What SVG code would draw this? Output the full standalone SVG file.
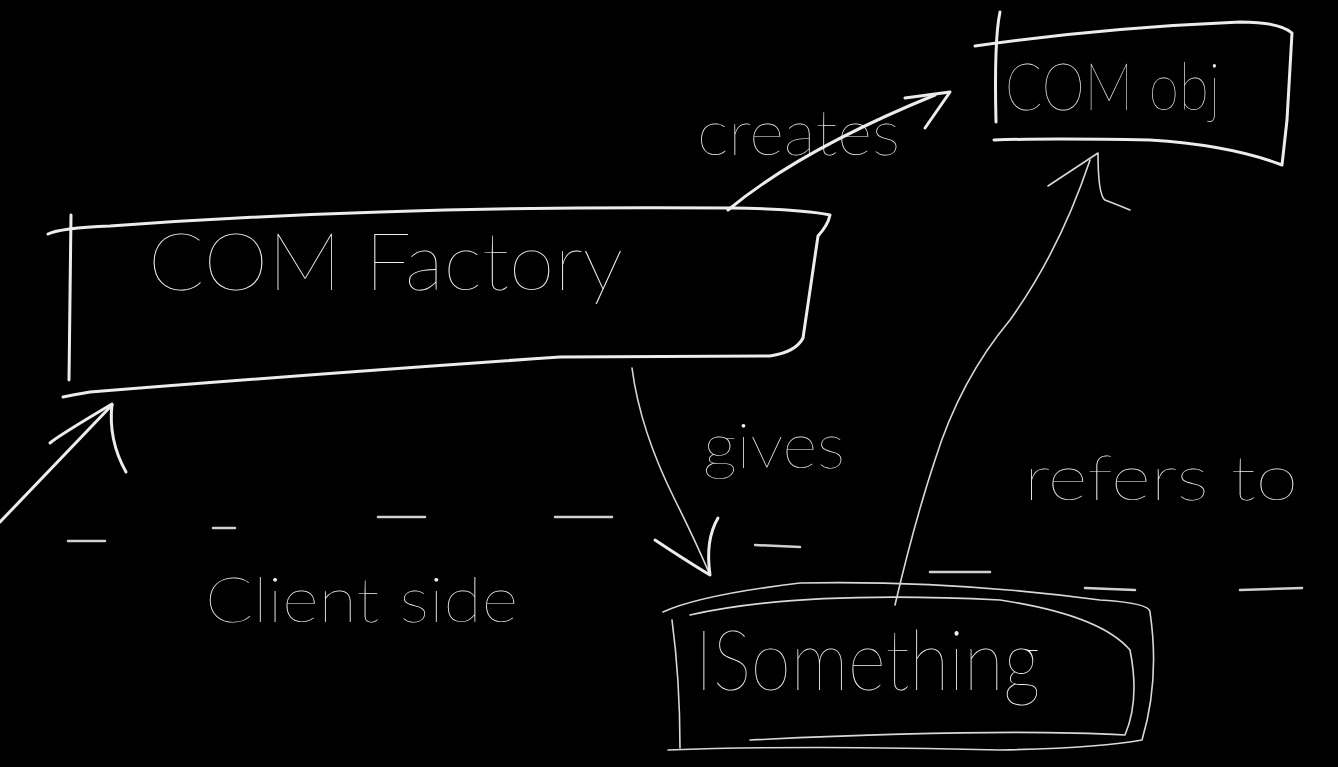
<svg xmlns="http://www.w3.org/2000/svg" width="1338" height="767" viewBox="0 0 1338 767">
<style>
.ink{fill:none;stroke:#ececec;stroke-width:3;stroke-linecap:round;stroke-linejoin:round}
.thin{fill:none;stroke:#d8d8d8;stroke-width:1.6;stroke-linecap:round;stroke-linejoin:round}
.dash{fill:none;stroke:#d0d0d0;stroke-width:2.5;stroke-linecap:round}
.t{fill:#f0f0f0;font-family:Lato,Inter,"DejaVu Sans","Liberation Sans",sans-serif;font-weight:200}
</style>
<rect width="1338" height="767" fill="#000"/>
<g id="divider">
<path class="dash" d="M68 541 L105 541 M213 528 L235 528 M378 517 L425 517 M555 517 L612 517 M755 545 L800 547 M930 572 L990 572 M1085 588 L1135 590 M1240 590 L1302 588"/>
</g>
<g id="com-factory">
<path class="ink" d="M48 234 Q60 228 110 226 Q400 205 730 208 Q800 209 830 215 Q828 225 818 236 L803 338 Q796 352 770 356 L560 357 Q300 375 90 392 Q72 395 63 397"/>
<path class="ink" d="M71 215 L69 380"/>
<text class="t" x="148" y="290" font-size="80" textLength="475" lengthAdjust="spacingAndGlyphs">COM Factory</text>
</g>
<g id="com-obj">
<path class="ink" d="M975 46 Q1100 28 1240 22 Q1280 22 1292 33 L1287 120 L1282 165 Q1230 145 1150 140 Q1050 138 994 140"/>
<path class="ink" d="M1000 12 Q994 40 996 122"/>
<text class="t" x="1005" y="110" font-size="66" textLength="215" lengthAdjust="spacingAndGlyphs">COM obj</text>
</g>
<g id="isomething">
<path class="thin" d="M663 612 Q700 595 800 583 Q950 580 1100 600 Q1150 603 1150 612 Q1160 680 1142 740 Q1100 748 1000 750 Q800 745 668 750"/>
<path class="thin" d="M672 620 Q680 680 680 748 M690 615 Q800 590 1000 600 Q1100 615 1130 650 Q1140 700 1125 735 Q1000 728 750 740"/>
<text class="t" x="695" y="690" font-size="84" textLength="345" lengthAdjust="spacingAndGlyphs">ISomething</text>
</g>
<g id="connectors">
<path class="ink" d="M728 210 Q800 150 935 95"/>
<path class="ink" d="M905 98 L950 92 L925 128"/>
<path class="thin" d="M632 368 Q640 430 675 500 Q695 540 710 575"/>
<path class="ink" d="M655 540 Q685 560 710 575 Q705 540 718 518"/>
<path class="thin" d="M895 605 Q915 520 935 460 Q960 380 1010 320 Q1060 250 1090 160"/>
<path class="thin" d="M1048 186 L1098 153 Q1098 195 1105 200 Q1118 205 1130 210"/>
<path class="ink" d="M0 522 L112 405"/>
<path class="ink" d="M50 443 Q58 436 112 404 Q108 440 126 472"/>
</g>
<g id="labels">
<text class="t" x="697" y="155" font-size="64" textLength="203" lengthAdjust="spacingAndGlyphs">creates</text>
<text class="t" x="703" y="468" font-size="62" textLength="142" lengthAdjust="spacingAndGlyphs">gives</text>
<text class="t" x="1024" y="500" font-size="62" textLength="274" lengthAdjust="spacingAndGlyphs">refers to</text>
<text class="t" x="205" y="622" font-size="62" textLength="313" lengthAdjust="spacingAndGlyphs">Client side</text>
</g>
</svg>
